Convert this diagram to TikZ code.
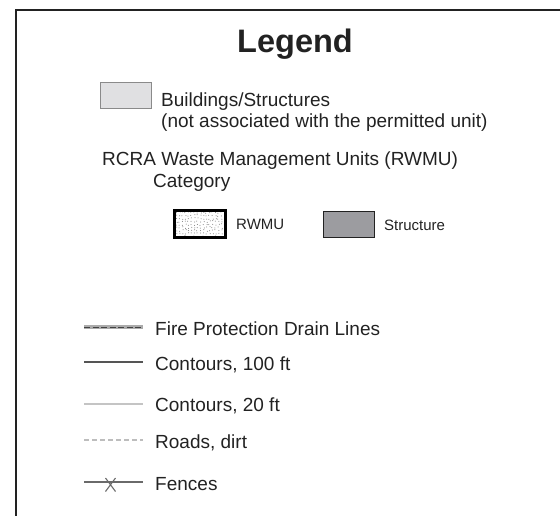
\documentclass[tikz,border=0pt]{standalone}
\usepackage{fontspec}
\setmainfont{Liberation Sans}
\definecolor{ink}{HTML}{222222}
\definecolor{bldfill}{HTML}{E0E0E2}
\definecolor{bldline}{HTML}{8A8A8A}
\definecolor{strfill}{HTML}{9C9CA0}
\definecolor{bandgray}{HTML}{ABABAB}
\definecolor{c100}{HTML}{555555}
\definecolor{c20}{HTML}{C4C4C4}
\definecolor{road}{HTML}{BDBDBD}
\definecolor{fence}{HTML}{6A6A6A}
\definecolor{dotgray}{HTML}{777777}
\tikzset{
  txt/.style={anchor=base west, inner sep=0pt, text=ink, font=\fontsize{19}{22}\selectfont},
  smalltxt/.style={anchor=base west, inner sep=0pt, text=ink, font=\fontsize{15}{18}\selectfont},
  swatch/.style={inner sep=0pt, outer sep=0pt}
}
\begin{document}
\begin{tikzpicture}[x=1pt,y=-1pt]
\useasboundingbox (0,0) rectangle (560,516);
% frame
\draw[ink, line width=1.7pt] (16,516) -- (16,10) -- (560,10);
% title
\node[anchor=base, inner sep=0pt, text=ink, font=\fontsize{32.5}{38}\selectfont\bfseries] (title) at (295,53) {Legend};
% buildings
\node[swatch, draw=bldline, fill=bldfill, line width=1pt, minimum width=51pt, minimum height=26pt] (bld) at (126,95.5) {};
\node[txt] (bldA) at (161,107) {Buildings/Structures};
\node[txt] (bldB) at (161,128) {(not associated with the permitted unit)};
% RWMU category
\node[txt] (rcra) at (102,166) {RCRA Waste Management Units (RWMU)};
\node[txt] (cat) at (153,188) {Category};
\fill[white] (174.5,210.5) rectangle (225.5,237.5);
\pgfmathsetseed{7}
\foreach \i in {0,...,16}{
  \foreach \j in {0,...,8}{
    \pgfmathsetmacro{\dx}{176.5+3*\i+0.9*rand}
    \pgfmathsetmacro{\dy}{212.5+3*\j+0.9*rand}
    \fill[dotgray] (\dx,\dy) circle[radius=0.5pt];
  }
}
\node[swatch, draw=black, line width=3pt, minimum width=51pt, minimum height=27pt] (rwmu) at (200,224) {};
\node[smalltxt] (rwmut) at (236,229.5) {RWMU};
\node[swatch, draw=ink, fill=strfill, line width=1.6pt, minimum width=51pt, minimum height=26pt] (str) at (349,224.5) {};
\node[smalltxt] (strt) at (384,230.5) {Structure};
% line symbols
\coordinate (f0) at (84,327); \coordinate (f1) at (143,327);
\draw[bandgray, line width=4.6pt] (f0) -- (f1);
\draw[ink!85, line width=0.8pt, dash pattern=on 6pt off 2.5pt] (f0) -- (f1);
\node[txt] (fire) at (155,335) {Fire Protection Drain Lines};
\coordinate (a0) at (84,362); \coordinate (a1) at (143,362);
\draw[c100, line width=1.2pt] (a0) -- (a1);
\node[txt] (cont100) at (155,370) {Contours, 100 ft};
\coordinate (b0) at (84,404); \coordinate (b1) at (143,404);
\draw[c20, line width=1.2pt] (b0) -- (b1);
\node[txt] (cont20) at (155,411) {Contours, 20 ft};
\coordinate (r0) at (84,440); \coordinate (r1) at (143,440);
\draw[road, line width=1.1pt, dash pattern=on 5pt off 3pt] (r0) -- (r1);
\node[txt] (roads) at (155,448) {Roads, dirt};
\coordinate (e0) at (84,482); \coordinate (e1) at (143,482);
\draw[fence, line width=1.2pt] (e0) -- (e1);
\draw[fence, line width=1.1pt] (105.5,478) -- (115.5,491.5) (115.5,478) -- (105.5,491.5);
\node[txt] (fences) at (155,490) {Fences};
\end{tikzpicture}
\end{document}
